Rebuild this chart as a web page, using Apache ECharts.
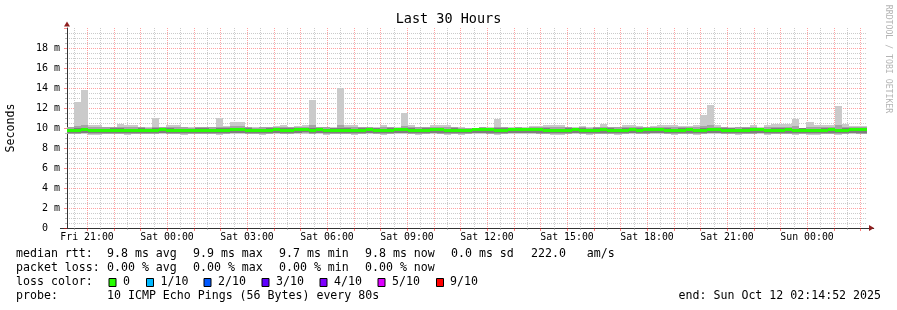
<!DOCTYPE html>
<html><head><meta charset="utf-8">
<script src="https://cdn.jsdelivr.net/npm/echarts@6/dist/echarts.min.js"></script>
<style>html,body{margin:0;padding:0;background:#fff}#c{width:897px;height:310px}</style>
</head><body><div id="c"></div>
<script>
// ---------- data ----------
const chartTitle = 'Last 30 Hours';
const yAxisTitle = 'Seconds';
const watermark = 'RRDTOOL / TOBI OETIKER';
// time in hours since Fri 00:00
const viewStart = 20 + 14/60 + 52/3600;   // Fri 20:14:52
const viewEnd = viewStart + 30;           // Sun 02:14:52
const firstBinStart = 20.245;
const binHours = 16/60;                   // 960 s consolidation bins
const xTickHours  = [21, 24, 27, 30, 33, 36, 39, 42, 45, 48];
const xTickLabels = ['Fri 21:00','Sat 00:00','Sat 03:00','Sat 06:00','Sat 09:00','Sat 12:00','Sat 15:00','Sat 18:00','Sat 21:00','Sun 00:00'];

// sorted ping ranks per bin (ms): lowest, 2nd, 3rd, 8th, 9th, highest, and median
const pingMin = [
 9.38,9.40,9.42,9.35,9.34,9.38,9.40,9.37,9.35,9.38,
 9.40,9.36,9.38,9.41,9.38,9.36,9.34,9.38,9.40,9.37,
 9.38,9.35,9.40,9.43,9.42,9.38,9.36,9.33,9.38,9.41,
 9.37,9.40,9.42,9.44,9.38,9.41,9.35,9.38,9.36,9.40,
 9.33,9.38,9.41,9.38,9.35,9.40,9.41,9.42,9.38,9.35,
 9.40,9.42,9.40,9.35,9.38,9.33,9.37,9.41,9.43,9.40,
 9.35,9.38,9.41,9.43,9.42,9.43,9.40,9.38,9.35,9.33,
 9.38,9.42,9.38,9.33,9.38,9.40,9.37,9.33,9.38,9.42,
 9.38,9.40,9.42,9.41,9.38,9.35,9.38,9.40,9.35,9.38,
 9.42,9.43,9.38,9.38,9.35,9.38,9.40,9.42,9.33,9.38,
 9.38,9.40,9.35,9.38,9.35,9.33,9.38,9.40,9.35,9.38,
 9.42,9.40,9.40];
const ping2 = [
 9.43,9.45,9.47,9.41,9.39,9.43,9.45,9.43,9.40,9.43,
 9.45,9.41,9.43,9.46,9.43,9.42,9.40,9.43,9.45,9.43,
 9.43,9.41,9.45,9.48,9.47,9.43,9.42,9.39,9.43,9.46,
 9.43,9.45,9.47,9.49,9.43,9.46,9.41,9.43,9.42,9.45,
 9.39,9.43,9.46,9.43,9.41,9.45,9.46,9.47,9.43,9.41,
 9.45,9.47,9.45,9.41,9.43,9.39,9.43,9.46,9.48,9.45,
 9.41,9.43,9.46,9.48,9.47,9.48,9.45,9.43,9.41,9.39,
 9.43,9.47,9.43,9.39,9.43,9.45,9.43,9.39,9.43,9.47,
 9.43,9.45,9.47,9.46,9.43,9.41,9.43,9.45,9.41,9.43,
 9.47,9.48,9.43,9.43,9.41,9.43,9.45,9.47,9.39,9.43,
 9.43,9.45,9.41,9.43,9.41,9.39,9.43,9.45,9.41,9.43,
 9.47,9.45,9.45];
const ping3 = [
 9.50,9.52,9.54,9.48,9.46,9.50,9.52,9.50,9.47,9.50,
 9.52,9.48,9.50,9.53,9.50,9.50,9.47,9.50,9.52,9.51,
 9.50,9.48,9.52,9.55,9.54,9.50,9.49,9.46,9.50,9.53,
 9.50,9.52,9.54,9.56,9.50,9.53,9.48,9.50,9.50,9.52,
 9.46,9.50,9.53,9.50,9.48,9.52,9.53,9.54,9.50,9.48,
 9.52,9.54,9.52,9.48,9.50,9.46,9.50,9.53,9.55,9.52,
 9.48,9.50,9.53,9.55,9.54,9.55,9.52,9.50,9.48,9.46,
 9.50,9.54,9.50,9.46,9.50,9.52,9.50,9.46,9.50,9.54,
 9.50,9.52,9.54,9.53,9.50,9.48,9.50,9.52,9.48,9.50,
 9.54,9.55,9.50,9.50,9.48,9.50,9.52,9.54,9.46,9.50,
 9.50,9.52,9.48,9.50,9.48,9.46,9.50,9.52,9.48,9.50,
 9.54,9.52,9.52];
const ping8 = [
 9.95,9.98,10.00,9.94,9.92,9.95,9.96,9.97,9.94,9.95,
 9.96,9.93,9.97,9.97,9.96,9.95,9.93,9.95,9.96,9.96,
 9.95,9.97,9.96,10.00,10.00,9.96,9.94,9.93,9.96,9.98,
 9.96,9.96,10.00,10.01,9.99,9.98,9.94,9.96,9.98,9.96,
 9.93,9.96,9.98,9.96,9.94,9.96,9.98,10.00,9.96,9.94,
 9.96,10.00,9.98,9.94,9.96,9.93,9.94,9.96,9.98,9.97,
 9.96,9.96,9.97,10.00,10.00,10.00,9.98,9.96,9.94,9.92,
 9.96,10.00,9.96,9.92,9.96,9.98,9.96,9.92,9.96,10.00,
 9.96,9.98,10.00,9.98,9.96,9.94,9.96,9.98,9.94,9.96,
 10.00,10.00,9.96,9.96,9.94,9.96,9.98,10.00,9.93,9.96,
 9.96,9.98,9.94,9.96,9.94,9.92,9.96,9.98,9.94,9.96,
 10.00,9.98,9.98];
const ping9 = [
 10.08,10.25,10.30,10.12,10.10,10.08,10.07,10.14,10.12,10.10,
 10.08,10.05,10.14,10.07,10.12,10.10,10.07,10.05,10.08,10.06,
 10.08,10.15,10.09,10.20,10.18,10.08,10.05,10.07,10.06,10.10,
 10.12,10.07,10.09,10.12,10.30,10.08,10.07,10.05,10.35,10.12,
 10.10,10.06,10.08,10.05,10.12,10.06,10.05,10.20,10.12,10.08,
 10.07,10.12,10.10,10.12,10.06,10.05,9.99,10.00,10.06,10.05,
 10.15,10.06,10.05,10.08,10.05,10.09,10.08,10.12,10.12,10.10,
 10.08,10.05,10.09,10.05,10.07,10.14,10.06,10.08,10.12,10.10,
 10.09,10.07,10.09,10.12,10.10,10.12,10.10,10.10,10.12,10.20,
 10.30,10.12,10.06,10.05,10.08,10.07,10.12,10.05,10.10,10.14,
 10.12,10.14,10.20,9.99,10.15,10.12,10.10,10.12,10.30,10.14,
 10.09,10.08,10.09];
const pingMax = [
 10.15,12.60,13.80,10.30,10.30,10.15,10.15,10.45,10.30,10.30,
 10.15,10.10,11.00,10.15,10.30,10.30,10.15,10.10,10.15,10.10,
 10.15,11.00,10.20,10.65,10.65,10.15,10.10,10.15,10.10,10.25,
 10.30,10.15,10.20,10.30,12.85,10.15,10.15,10.10,14.00,10.30,
 10.30,10.10,10.15,10.10,10.30,10.10,10.10,11.55,10.30,10.15,
 10.15,10.30,10.30,10.30,10.10,10.10,10.00,10.00,10.10,10.10,
 10.90,10.10,10.10,10.15,10.10,10.20,10.20,10.30,10.30,10.30,
 10.15,10.10,10.20,10.10,10.15,10.45,10.10,10.15,10.30,10.30,
 10.20,10.15,10.20,10.30,10.30,10.30,10.25,10.25,10.30,11.30,
 12.35,10.30,10.10,10.10,10.15,10.15,10.30,10.10,10.30,10.40,
 10.40,10.45,10.90,10.00,10.65,10.30,10.30,10.30,12.25,10.40,
 10.20,10.20,10.20];
const median = [
 9.78,9.80,9.84,9.76,9.74,9.78,9.80,9.80,9.76,9.78,
 9.80,9.76,9.78,9.82,9.80,9.78,9.76,9.78,9.80,9.80,
 9.78,9.77,9.80,9.84,9.84,9.80,9.78,9.76,9.80,9.82,
 9.79,9.80,9.84,9.86,9.80,9.82,9.78,9.80,9.78,9.80,
 9.76,9.80,9.82,9.80,9.78,9.80,9.82,9.84,9.80,9.78,
 9.80,9.84,9.82,9.78,9.80,9.76,9.80,9.82,9.84,9.82,
 9.78,9.80,9.82,9.84,9.84,9.84,9.82,9.80,9.78,9.76,
 9.80,9.84,9.80,9.76,9.80,9.82,9.80,9.76,9.80,9.84,
 9.80,9.82,9.84,9.82,9.80,9.78,9.80,9.82,9.78,9.80,
 9.84,9.84,9.80,9.80,9.78,9.80,9.82,9.84,9.76,9.80,
 9.80,9.82,9.78,9.80,9.78,9.76,9.80,9.82,9.78,9.80,
 9.84,9.82,9.82];

// legend
const legendRows = [
  ['median rtt:', '9.8 ms avg', '9.9 ms max', '9.7 ms min', '9.8 ms now', '0.0 ms sd', '222.0   am/s'],
  ['packet loss:', '0.00 % avg', '0.00 % max', '0.00 % min', '0.00 % now']
];
const lossLabels = ['0','1/10','2/10','3/10','4/10','5/10','9/10'];
const lossColors = ['#26ff00','#00b8ff','#0059ff','#5e00ff','#7e00ff','#dd00ff','#ff0000'];
const probeText = '10 ICMP Echo Pings (56 Bytes) every 80s';
const endText = 'end: Sun Oct 12 02:14:52 2025';

// ---------- layout / style ----------
const FONT = '"DejaVu Sans Mono", monospace';
const gridLeft = 67, gridTop = 28, gridW = 800, gridH = 200;
const pxPerHour = gridW / 30;
const axisMin = 20, axisMax = 50.5;
const grid1Left = gridLeft - (viewStart - axisMin) * pxPerHour;
const smokeColors = ['#cacaca', '#a4a4a4', '#7e7e7e'];
const MAJOR = 'rgba(255,0,0,0.36)';
const MINOR = 'rgba(140,140,140,0.45)';
const AXIS = '#333333';
const ARROW = '#8f1f1f';

// vertical grid marks every half hour inside the view (integer = full hour)
const gridMarks = [];
for (let h = Math.ceil(viewStart * 2) / 2; h < viewEnd; h += 0.5) gridMarks.push([h]);

const rows = median.map((m, i) => [firstBinStart + i * binHours, pingMin[i], ping2[i], ping3[i], ping8[i], ping9[i], pingMax[i], m]);

function renderSmoke(params, api) {
  const t0 = api.value(0), t1 = t0 + binHours;
  const xa = Math.round(api.coord([t0, 0])[0]);
  const xb = Math.round(api.coord([t1, 0])[0]);
  const bands = [[1, 6], [2, 5], [3, 4]];
  const children = bands.map((b, j) => {
    const yTop = Math.round(api.coord([t0, api.value(b[1])])[1]);
    const yBot = Math.round(api.coord([t0, api.value(b[0])])[1]);
    return { type: 'rect', shape: { x: xa, y: yTop, width: xb - xa, height: yBot - yTop }, style: { fill: smokeColors[j] } };
  });
  const ym = api.coord([t0, api.value(7)])[1];
  children.push({ type: 'rect', shape: { x: xa, y: Math.round(ym - 1.5), width: xb - xa, height: 3 }, style: { fill: lossColors[0] } });
  return { type: 'group', children };
}

function renderGridMark(params, api) {
  const t = api.value(0);
  const major = Math.abs(t - Math.round(t)) < 1e-6;
  const b = api.coord([t, 0]), top = api.coord([t, 20]);
  const x = Math.round(b[0]) + 0.5;
  const col = major ? MAJOR : MINOR;
  return { type: 'group', children: [
    { type: 'line', shape: { x1: x, y1: Math.round(top[1]), x2: x, y2: Math.round(b[1]) }, style: { stroke: col, lineWidth: 1, lineDash: [1, 1] } },
    { type: 'line', shape: { x1: x, y1: Math.round(b[1]), x2: x, y2: Math.round(b[1]) + (major ? 3 : 2) }, style: { stroke: major ? 'rgba(255,0,0,0.5)' : 'rgba(140,140,140,0.6)', lineWidth: 1 } }
  ] };
}

const txt = (x, y, text, extra) => Object.assign({ type: 'text', x, y, silent: true,
  style: Object.assign({ text, fontFamily: FONT, fontSize: 11.6, fill: '#000', align: 'left', verticalAlign: 'middle' }, extra || {}) });

const graphics = [];
graphics.push(txt(448.5, 19, chartTitle, { fontSize: 13.5, align: 'center' }));
graphics.push(Object.assign(txt(888, 59, watermark, { fontSize: 8.2, fill: '#b4b4b4', align: 'center' }), { rotation: -Math.PI / 2 }));
const row1X = [16, 107, 193, 279, 365, 451, 531];
legendRows[0].forEach((t, i) => graphics.push(txt(row1X[i], 254, t)));
legendRows[1].forEach((t, i) => graphics.push(txt(row1X[i], 268, t)));
graphics.push(txt(16, 282, 'loss color:'));
const boxX = [108.5, 146, 203.5, 261.5, 319.5, 377.5, 436];
const boxTextX = [123, 160.5, 218, 276, 334, 392, 450];
lossLabels.forEach((l, i) => {
  graphics.push({ type: 'rect', silent: true, shape: { x: boxX[i] + 0.5, y: 278.5, width: 7, height: 8 }, style: { fill: lossColors[i], stroke: '#000', lineWidth: 1 } });
  graphics.push(txt(boxTextX[i], 282, l));
});
graphics.push(txt(16, 296, 'probe:'));
graphics.push(txt(107, 296, probeText));
graphics.push(txt(881, 296, endText, { align: 'right' }));

const chart = echarts.init(document.getElementById('c'), null, { renderer: 'canvas' });
chart.setOption({
  animation: false,
  backgroundColor: '#ffffff',
  grid: [
    { left: gridLeft, top: gridTop, width: gridW, height: gridH, containLabel: false, outerBoundsMode: 'none' },
    { left: grid1Left, top: gridTop, width: (axisMax - axisMin) * pxPerHour, height: gridH, containLabel: false, outerBoundsMode: 'none' }
  ],
  xAxis: [
    { gridIndex: 0, type: 'value', min: viewStart, max: viewEnd, show: false },
    { gridIndex: 1, type: 'value', min: axisMin, max: axisMax, interval: 1,
      axisLine: { show: true, onZero: false, lineStyle: { color: AXIS, width: 1 } },
      axisTick: { show: false },
      axisLabel: { show: true, margin: 4, fontSize: 9.9, fontFamily: FONT, color: '#000',
        showMinLabel: false, showMaxLabel: false,
        formatter: v => { const i = xTickHours.findIndex(h => Math.abs(h - v) < 1e-6); return i >= 0 ? xTickLabels[i] : ''; } },
      splitLine: { show: false } },
    { gridIndex: 1, type: 'value', min: axisMin, max: axisMax, position: 'bottom',
      axisLine: { show: true, onZero: false, symbol: ['none', 'triangle'], symbolSize: [6, 5], symbolOffset: [0, -2.2], lineStyle: { color: ARROW, opacity: 0 } },
      axisTick: { show: false }, axisLabel: { show: false }, splitLine: { show: false } }
  ],
  yAxis: [
    { gridIndex: 0, type: 'value', min: 0, max: 20, interval: 2,
      name: yAxisTitle, nameLocation: 'middle', nameGap: 50, nameRotate: 90,
      nameTextStyle: { fontFamily: FONT, fontSize: 11.6, color: '#000' },
      axisLine: { show: true, onZero: false, lineStyle: { color: AXIS, width: 1 } },
      axisTick: { show: true, length: 3, lineStyle: { color: 'rgba(255,0,0,0.45)' } },
      minorTick: { show: true, splitNumber: 4, length: 2, lineStyle: { color: 'rgba(140,140,140,0.6)' } },
      axisLabel: { margin: 7, fontSize: 10, fontFamily: FONT, color: '#000', showMaxLabel: false,
        formatter: v => v === 0 ? '0  ' : v + ' m' },
      splitLine: { show: true, showMinLine: false, showMaxLine: false, lineStyle: { color: MAJOR, width: 1, type: [1, 1] } },
      minorSplitLine: { show: true, lineStyle: { color: MINOR, width: 1, type: [1, 1] } } },
    { gridIndex: 0, type: 'value', min: 0, max: 20, position: 'left',
      axisLine: { show: true, onZero: false, symbol: ['none', 'triangle'], symbolSize: [6, 5], symbolOffset: [0, 4], lineStyle: { color: ARROW, opacity: 0 } },
      axisTick: { show: false }, axisLabel: { show: false }, splitLine: { show: false } },
    { gridIndex: 1, type: 'value', min: 0, max: 20, show: false }
  ],
  series: [
    { type: 'custom', name: 'grid', xAxisIndex: 0, yAxisIndex: 0, clip: false, z: 1,
      renderItem: renderGridMark, data: gridMarks, encode: { x: 0 }, silent: true },
    { type: 'custom', name: 'smoke', xAxisIndex: 0, yAxisIndex: 0, clip: true, z: 2,
      renderItem: renderSmoke, data: rows, encode: { x: 0, y: [1, 2, 3, 4, 5, 6, 7] }, silent: true }
  ],
  graphic: graphics
});
</script></body></html>
